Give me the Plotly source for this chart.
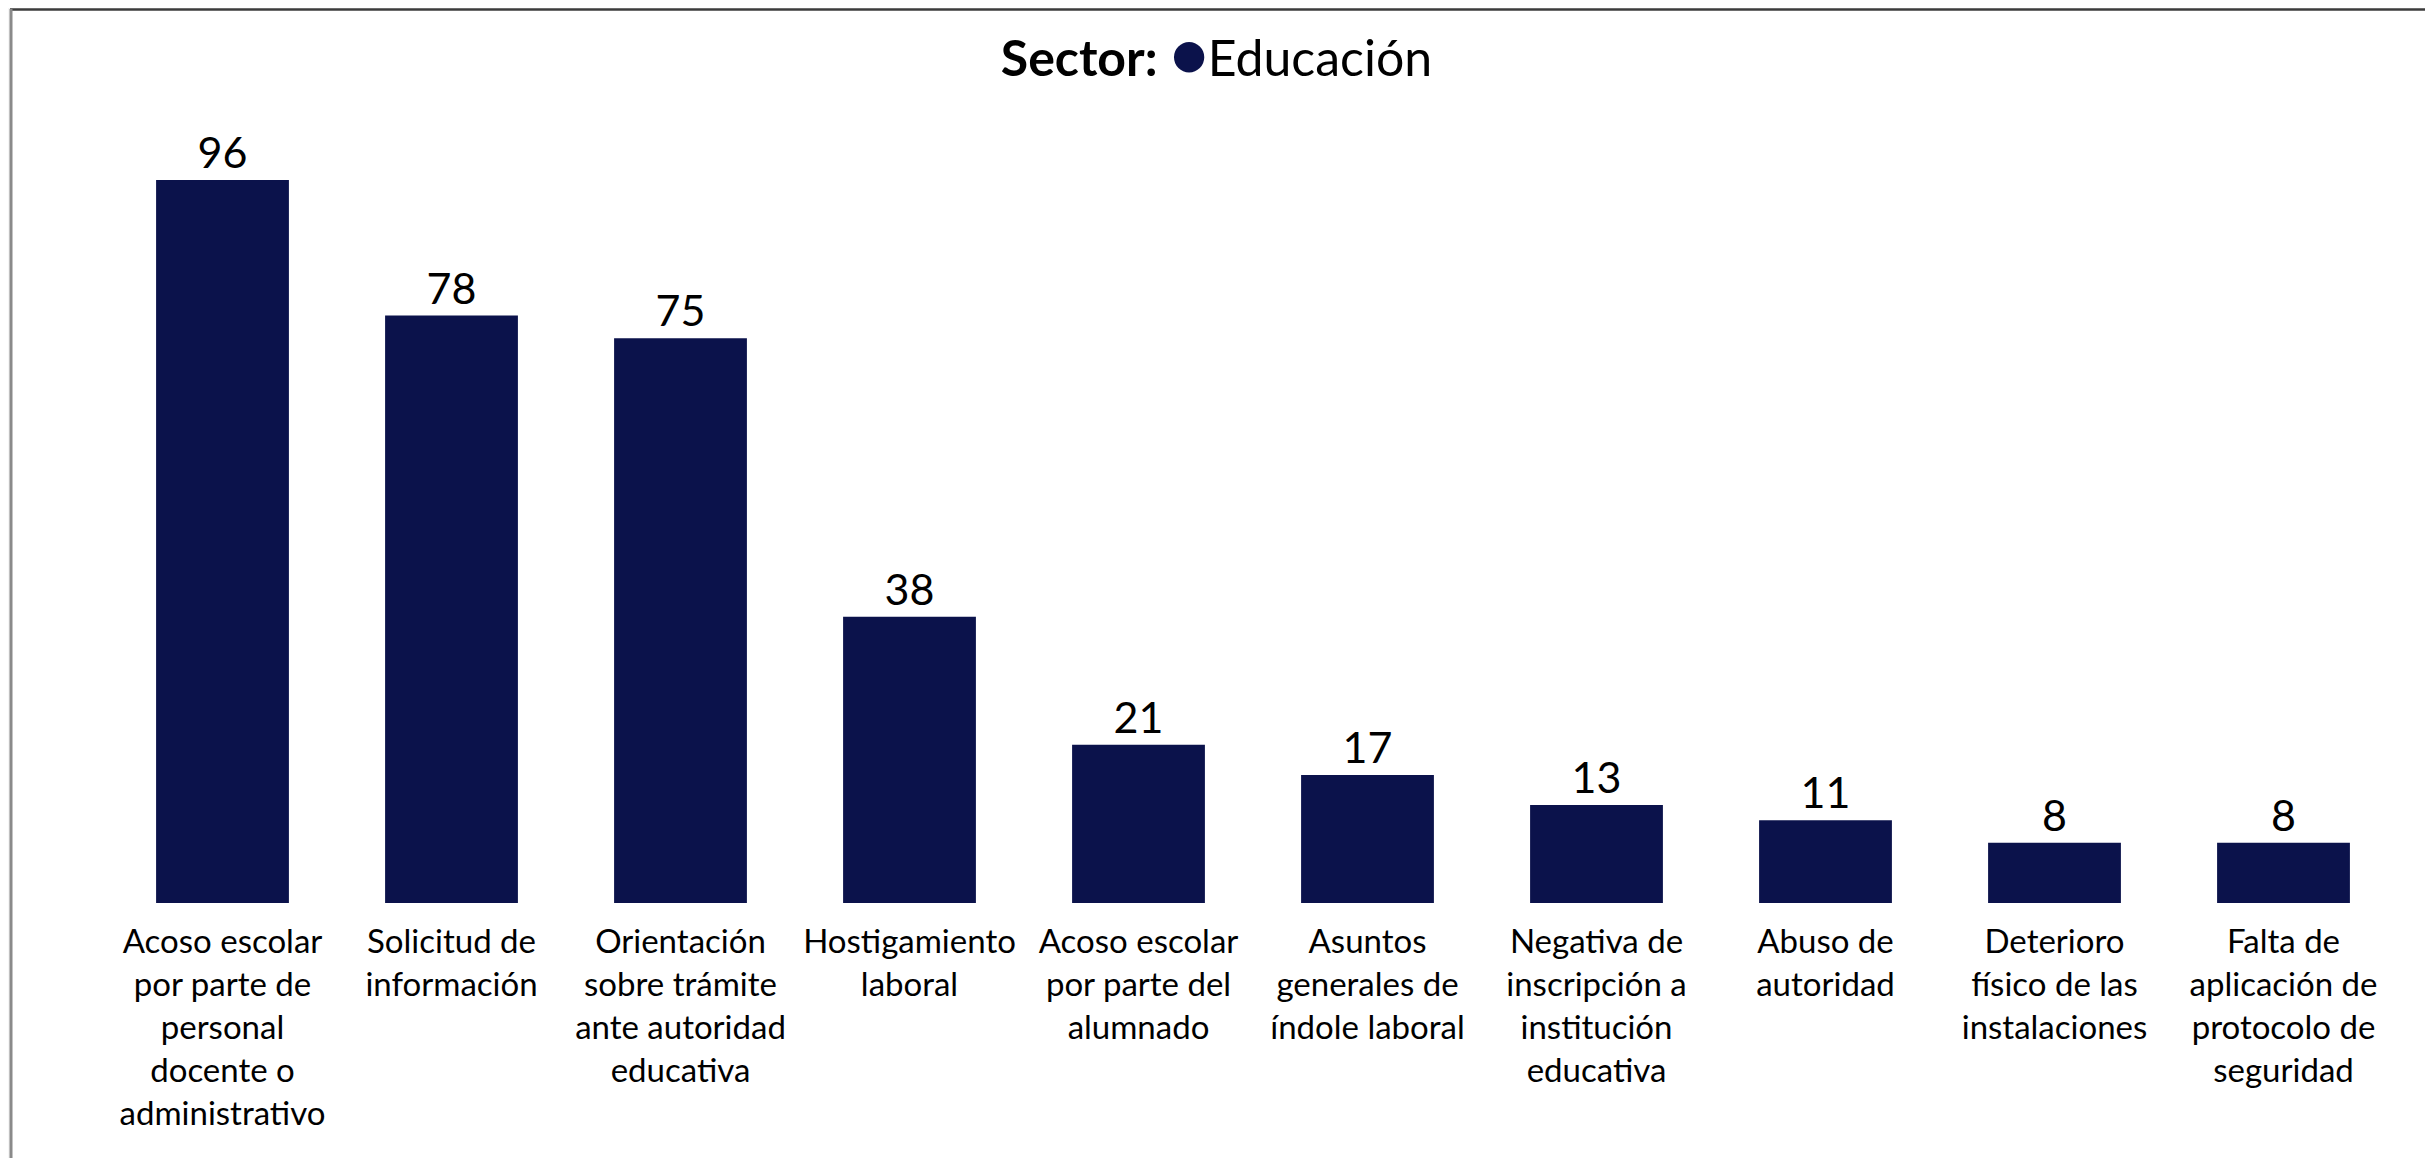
import plotly.graph_objects as go

categorias = [
    "Acoso escolar<br>por parte de<br>personal<br>docente o<br>administrativo",
    "Solicitud de<br>información",
    "Orientación<br>sobre trámite<br>ante autoridad<br>educativa",
    "Hostigamiento<br>laboral",
    "Acoso escolar<br>por parte del<br>alumnado",
    "Asuntos<br>generales de<br>índole laboral",
    "Negativa de<br>inscripción a<br>institución<br>educativa",
    "Abuso de<br>autoridad",
    "Deterioro<br>físico de las<br>instalaciones",
    "Falta de<br>aplicación de<br>protocolo de<br>seguridad",
]
valores = [96, 78, 75, 38, 21, 17, 13, 11, 8, 8]

sector = "Educación"
color_barra = "#0b124b"

# page body has an 8px margin; size the figure so the page does not scroll
OFF = 8
W, H = 2433 - 2 * OFF, 1166 - 2 * OFF
ml, mt = 100, 102
mr = W - 2390
mb = H - 895
pw = W - ml - mr
ph = H - mt - mb


def px_x(p):
    # p: page pixel
    return (p - OFF - ml) / pw


def px_y(p):
    return (H - mb - (p - OFF)) / ph


fig = go.Figure()
fig.add_trace(go.Bar(
    x=list(range(len(categorias))),
    y=valores,
    marker=dict(color=color_barra, line=dict(width=0)),
    text=[str(v) for v in valores],
    textposition="outside",
    textfont=dict(family="Lato", size=43, color="#000000"),
    cliponaxis=False,
    showlegend=False,
    hoverinfo="skip",
))

shapes = [
    dict(type="rect", xref="paper", yref="paper", layer="below",
         x0=px_x(11), x1=px_x(2440), y0=px_y(1180), y1=px_y(10),
         fillcolor="#ffffff", line=dict(width=0)),
    dict(type="line", xref="paper", yref="paper", layer="above",
         x0=px_x(10), x1=px_x(2440), y0=px_y(9.5), y1=px_y(9.5),
         line=dict(color="#3c3c3c", width=2.5)),
    dict(type="line", xref="paper", yref="paper", layer="above",
         x0=px_x(11), x1=px_x(11), y0=px_y(9), y1=px_y(1180),
         line=dict(color="#8a8a8a", width=3)),
]

fig.update_layout(
    width=W, height=H,
    margin=dict(l=ml, r=mr, t=mt, b=mb, pad=0),
    paper_bgcolor="#f6f6f6",
    plot_bgcolor="#ffffff",
    bargap=0.42,
    title=dict(
        text=("<b>Sector:</b> <span style='color:%s;font-size:62px'>●</span>%s"
              % (color_barra, sector)),
        x=0.5, xref="container", xanchor="center",
        y=1 - (58 - OFF) / H, yref="container", yanchor="middle",
        font=dict(family="Lato", size=50, color="#000000"),
    ),
    xaxis=dict(
        tickmode="array",
        tickvals=list(range(len(categorias))),
        ticktext=categorias,
        tickangle=0,
        tickfont=dict(family="Lato", size=33, color="#000000"),
        showgrid=False, zeroline=False, showline=False,
        ticks="", ticklabelstandoff=16,
        range=[-0.5, len(categorias) - 0.5],
    ),
    yaxis=dict(
        range=[0, 105.3],
        showgrid=False, zeroline=False, showline=False,
        showticklabels=False, ticks="",
    ),
    shapes=shapes,
    font=dict(family="Lato"),
)

fig.write_html("out.html")
